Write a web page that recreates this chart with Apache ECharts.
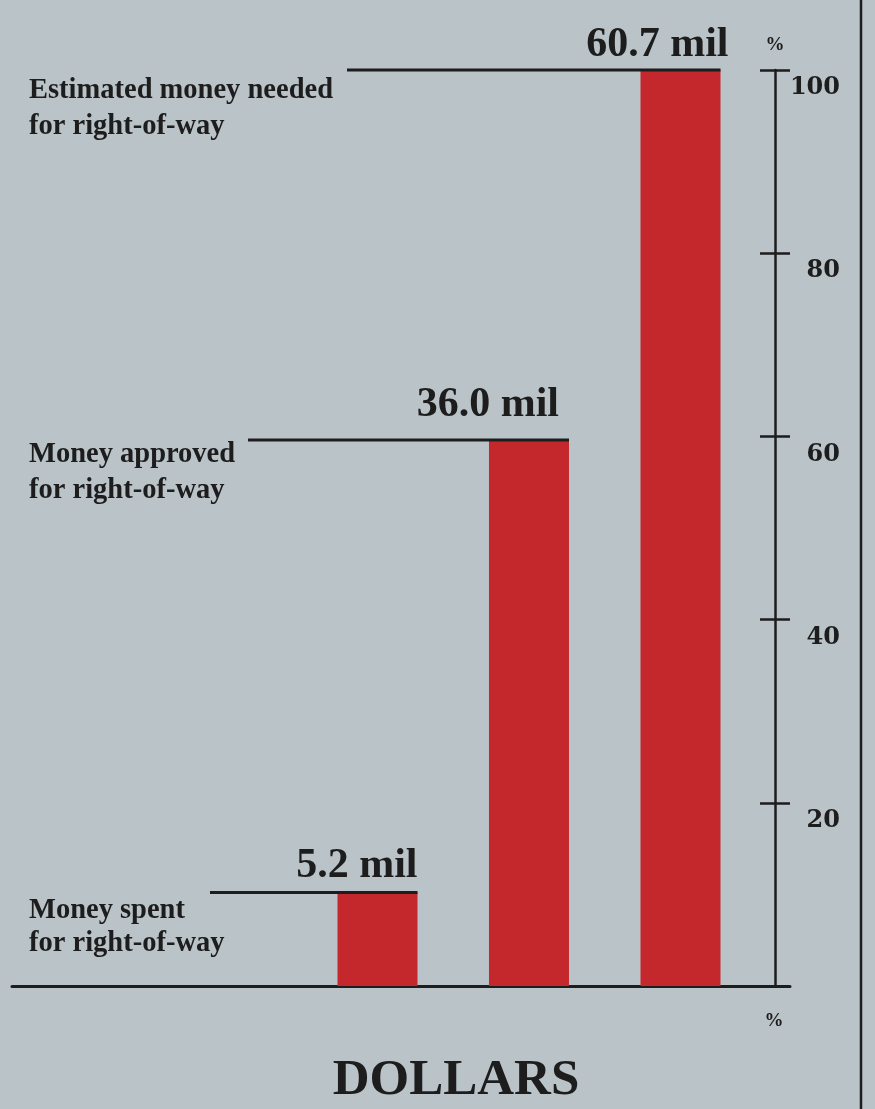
<!DOCTYPE html>
<html><head><meta charset="utf-8">
<script src="https://cdn.jsdelivr.net/npm/echarts@6/dist/echarts.min.js"></script>
<style>html,body{margin:0;padding:0;background:#bac3c7}#c{width:875px;height:1109px}</style>
</head><body><div id="c"></div>
<script>
// ---- data ----
const categories = ['Money spent\nfor right-of-way', 'Money approved\nfor right-of-way', 'Estimated money needed\nfor right-of-way'];
const amountsMil = [5.2, 36.0, 60.7];
const percentValues = [10.2, 59.6, 100];
const percentTicks = [20, 40, 60, 80, 100];
const axisTitle = 'DOLLARS';
const unitSymbol = '%';

// ---- layout (not data) ----
const leaderStartX = [210, 248, 347];
const labelDy = [2, -3, 3];
const labelLineH = [33, 36, 36];
const valueDx = [0, -10, 8];
const valueGap = [12, 21, 11];

const INK = '#1d1d1d';
const SERIF = '"Liberation Serif", "Times New Roman", serif';
const BAR_W = 80;
const X_MIN = -2.4125, X_MAX = 2.7228;

const chart = echarts.init(document.getElementById('c'), null, {renderer: 'canvas'});
chart.setOption({
  backgroundColor: '#bac3c7',
  animation: false,
  grid: {left: 12, right: 85, top: 70, bottom: 123},
  xAxis: {
    type: 'value', min: X_MIN, max: X_MAX,
    axisLine: {show: true, onZero: false, lineStyle: {color: INK, width: 3}},
    axisTick: {show: false}, axisLabel: {show: false}, splitLine: {show: false}
  },
  yAxis: [
    {
      type: 'value', position: 'right', offset: -15, min: 0, max: 100, interval: 20,
      name: unitSymbol, nameLocation: 'end', nameGap: 15,
      nameTextStyle: {align: 'center', fontFamily: SERIF, fontWeight: 'bold', fontSize: 19, color: INK},
      axisLine: {show: true, onZero: false, lineStyle: {color: INK, width: 2.5}},
      axisTick: {show: true, length: 15, lineStyle: {color: INK, width: 2.5}},
      axisLabel: {
        align: 'right', verticalAlign: 'top', margin: 65, padding: [6, 0, 0, 0],
        fontFamily: '"DejaVu Serif", serif', fontWeight: 'bold', fontSize: 24, color: INK,
        formatter: v => percentTicks.indexOf(v) >= 0 ? String(v) : ''
      },
      splitLine: {show: false}
    },
    {
      type: 'value', position: 'right', offset: -15, min: 0, max: 100, interval: 20,
      axisLine: {show: false, onZero: false},
      axisTick: {show: true, inside: true, length: 15, lineStyle: {color: INK, width: 2.5}},
      axisLabel: {show: false}, splitLine: {show: false}
    }
  ],
  series: [{
    type: 'bar', barWidth: BAR_W, yAxisIndex: 0,
    data: percentValues.map((v, i) => [i, v]),
    itemStyle: {color: '#c4282d'}
  }]
});

const els = [];
percentValues.forEach((v, i) => {
  const p = chart.convertToPixel({seriesIndex: 0}, [i, v]);
  const right = p[0] + BAR_W / 2;
  els.push({type: 'line', z: 10, shape: {x1: leaderStartX[i], y1: p[1], x2: right, y2: p[1]},
    style: {stroke: INK, lineWidth: 3}});
  els.push({type: 'text', z: 10, x: 29, y: p[1] + labelDy[i],
    style: {text: categories[i], font: 'bold 28.5px ' + SERIF, fill: INK, lineHeight: labelLineH[i], align: 'left', verticalAlign: 'top'}});
  els.push({type: 'text', z: 10, x: right + valueDx[i], y: p[1] - valueGap[i] + 7,
    style: {text: amountsMil[i].toFixed(1) + ' mil', font: 'bold 42px ' + SERIF, fill: INK, align: 'right', verticalAlign: 'bottom'}});
});
const base = chart.convertToPixel({seriesIndex: 0}, [0, 0]);
els.push({type: 'text', x: 774, y: base[1] + 35,
  style: {text: unitSymbol, font: 'bold 19px ' + SERIF, fill: INK, align: 'center', verticalAlign: 'middle'}});
els.push({type: 'text', x: 456, y: base[1] + 95,
  style: {text: axisTitle, font: 'bold 51px ' + SERIF, fill: INK, align: 'center', verticalAlign: 'middle'}});
els.push({type: 'line', shape: {x1: 861, y1: 0, x2: 861, y2: 1109}, style: {stroke: INK, lineWidth: 2.5}});
chart.setOption({graphic: els});
</script>
</body></html>
